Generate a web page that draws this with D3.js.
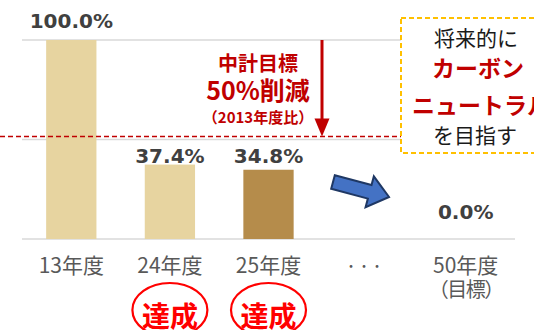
<!DOCTYPE html>
<html>
<head>
<meta charset="utf-8">
<script src="https://cdn.jsdelivr.net/npm/d3@7"></script>
<style>
  html, body { margin: 0; padding: 0; background: #fff; }
  svg { display: block; }
</style>
</head>
<body>
<svg id="chart" width="534" height="330"></svg>
<script>
// Emission levels relative to FY2013 (%)
const categories = ["13年度", "24年度", "25年度", "・・・", "50年度"];
const subLabels = ["", "", "", "", "（目標）"];
const values = [100.0, 37.4, 34.8, null, 0.0];
const valueLabels = ["100.0%", "37.4%", "34.8%", "", "0.0%"];
const achieved = [false, true, true, false, false];
const gridTicks = [0, 50, 100];
const targetValue = 50;

const svg = d3.select("#chart");
const plot = { left: 22, right: 515, top: 40, bottom: 239 };

const x = d3.scaleBand().domain(categories).range([plot.left, plot.right]).paddingInner(0.49).paddingOuter(0.245);
const y = d3.scaleLinear().domain([0, 100]).range([plot.bottom, plot.top]);

const jp = "'Noto Sans CJK JP', 'Noto Sans', sans-serif";
const num = "'DejaVu Sans', Verdana, sans-serif";
const darkRed = "#c00000";

// gridlines
svg.append("g").selectAll("line").data(gridTicks).join("line")
  .attr("x1", plot.left).attr("x2", plot.right)
  .attr("y1", d => y(d)).attr("y2", d => y(d))
  .attr("stroke", "#d9d9d9").attr("stroke-width", 1.6);

// bars
const rows = categories.map((c, i) => ({ c, v: values[i], label: valueLabels[i], i }))
  .filter(d => d.v !== null);
const barColor = d => d.i === 2 ? "#b58c4b" : "#e7d4a0";
svg.append("g").selectAll("rect").data(rows).join("rect")
  .attr("x", d => x(d.c))
  .attr("width", x.bandwidth())
  .attr("y", d => y(d.v))
  .attr("height", d => y(0) - y(d.v))
  .attr("fill", barColor);

// value labels (tall bar gets extra room, short bars share one line)
const labelY = v => {
  if (v === 0) return y(0) - 20;
  if (v >= 90) return y(v) - 12;
  return y(37.4) - 2;
};
svg.append("g").selectAll("text").data(rows).join("text")
  .attr("x", d => x(d.c) + x.bandwidth() / 2)
  .attr("y", d => labelY(d.v))
  .attr("text-anchor", "middle")
  .attr("font-family", num).attr("font-weight", "bold").attr("font-size", 20)
  .attr("fill", "#404040")
  .text(d => d.label);

// category labels
const axisG = svg.append("g").attr("fill", "#595959").attr("font-family", jp).attr("text-anchor", "middle");
categories.forEach((c, i) => {
  const cx = x(c) + x.bandwidth() / 2;
  if (c === "・・・") {
    axisG.append("text").attr("x", cx - 3).attr("y", 271).attr("font-size", 13).text(c);
    return;
  }
  axisG.append("text").attr("x", cx).attr("y", 273).attr("font-size", 21).text(c);
  if (subLabels[i]) {
    axisG.append("text").attr("x", cx).attr("y", 297).attr("font-size", 20)
      .attr("letter-spacing", -1.5).text(subLabels[i]);
  }
});

// "達成" badges
categories.forEach((c, i) => {
  if (!achieved[i]) return;
  const cx = x(c) + x.bandwidth() / 2;
  svg.append("ellipse").attr("cx", cx).attr("cy", 310).attr("rx", 37.5).attr("ry", 27)
    .attr("fill", "none").attr("stroke", "#ff0000").attr("stroke-width", 2.2);
  svg.append("text").attr("x", cx).attr("y", 327)
    .attr("text-anchor", "middle").attr("font-family", jp).attr("font-weight", "bold")
    .attr("font-size", 28).attr("fill", "#ff0000").text("達成");
});

// target line (50% reduction)
const boxLeft = 401;
svg.append("line")
  .attr("x1", 0).attr("x2", boxLeft)
  .attr("y1", y(targetValue) - 3).attr("y2", y(targetValue) - 3)
  .attr("stroke", darkRed).attr("stroke-width", 1.3).attr("stroke-dasharray", "5,3");

// downward red arrow
const ax = 322;
svg.append("line").attr("x1", ax).attr("x2", ax).attr("y1", y(100)).attr("y2", y(targetValue) - 18)
  .attr("stroke", darkRed).attr("stroke-width", 3);
svg.append("path")
  .attr("d", `M${ax - 7.5},${y(targetValue) - 21} L${ax + 7.5},${y(targetValue) - 21} L${ax},${y(targetValue) - 3} Z`)
  .attr("fill", darkRed);

// annotation text
const ann = svg.append("g").attr("fill", darkRed).attr("font-family", jp).attr("font-weight", "bold").attr("text-anchor", "middle");
ann.append("text").attr("x", 258).attr("y", 71).attr("font-size", 20).text("中計目標");
ann.append("text").attr("x", 258).attr("y", 100).attr("font-size", 25).text("50%削減");
ann.append("text").attr("x", 258).attr("y", 123).attr("font-size", 15).text("（2013年度比）");

// blue arrow toward 2050
const arrow = svg.append("g").attr("transform", `translate(333,182) rotate(15)`);
arrow.append("path")
  .attr("d", "M0,-7 L38,-7 L38,-16 L58,0 L38,16 L38,7 L0,7 Z")
  .attr("fill", "#4472c4").attr("stroke", "#1f3864").attr("stroke-width", 2).attr("stroke-linejoin", "miter");

// carbon-neutral callout box
svg.append("rect").attr("x", boxLeft).attr("y", 18).attr("width", 160).attr("height", 135)
  .attr("fill", "#fff").attr("stroke", "#ffc000").attr("stroke-width", 2).attr("stroke-dasharray", "5,3");
const box = svg.append("g").attr("font-family", jp).attr("text-anchor", "middle");
box.append("text").attr("x", 476).attr("y", 46).attr("font-size", 21).attr("fill", "#1a1a1a").text("将来的に");
box.append("text").attr("x", 478).attr("y", 77).attr("font-size", 23).attr("font-weight", "bold").attr("fill", darkRed).text("カーボン");
box.append("text").attr("x", 481).attr("y", 114).attr("font-size", 23).attr("font-weight", "bold").attr("fill", darkRed).text("ニュートラル");
box.append("text").attr("x", 475).attr("y", 143).attr("font-size", 21).attr("fill", "#1a1a1a").text("を目指す");
</script>
</body>
</html>
